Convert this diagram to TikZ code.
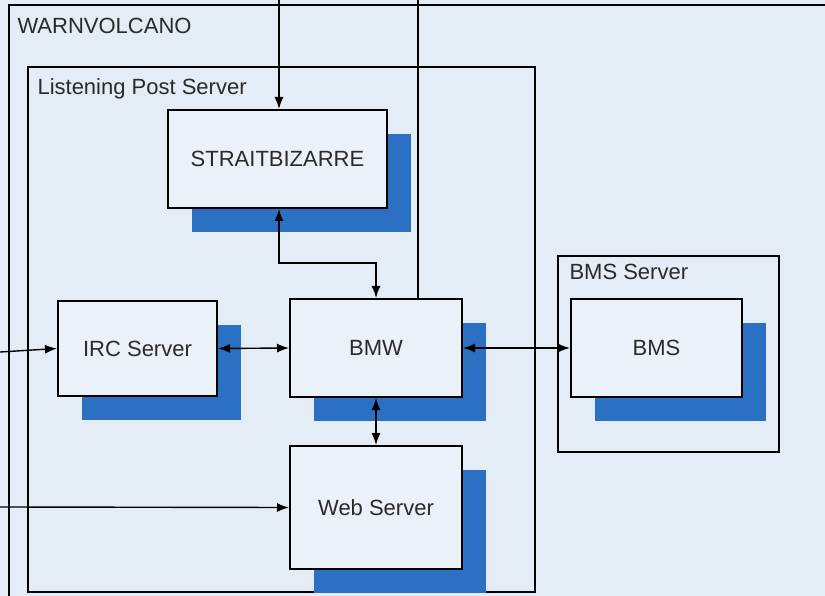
\documentclass[tikz,border=0pt]{standalone}
\usepackage{fontspec}
\setmainfont{Liberation Sans}
\usetikzlibrary{arrows.meta,shadows}
\definecolor{bgblue}{HTML}{E4ECF6}
\definecolor{boxblue}{HTML}{EBF1F9}
\definecolor{shadowblue}{HTML}{2B70C2}
\definecolor{textgray}{HTML}{2A2A2A}
\begin{document}
\begin{tikzpicture}[x=1pt,y=-1pt,
    every node/.style={text=textgray,font=\fontsize{22}{25}\selectfont},
    server/.style={draw=black,line width=2pt,fill=boxblue,
        general shadow={fill=shadowblue,shadow xshift=24pt,shadow yshift=-24pt}},
    link/.style={line width=1.4pt,-{Latex[length=12pt,width=9pt]}},
    dlink/.style={line width=1.4pt,{Latex[length=12pt,width=9pt]}-{Latex[length=12pt,width=9pt]}}]
    \fill[bgblue] (0,0) rectangle (825,596);
    \useasboundingbox (0,0) rectangle (825,596);
    % containers
    \draw[line width=2pt] (9,596) -- (9,5) -- (825,5);
    \node[anchor=north west] (warn) at (14,15) {WARNVOLCANO};
    \draw[line width=2pt] (28,67) rectangle (535,592);
    \node[anchor=north west] (lps) at (34,75) {Listening Post Server};
    \draw[line width=2pt] (558,256) rectangle (779,452);
    \node[anchor=north west] (bmsserver) at (566,261) {BMS Server};
    % servers
    \node[server,minimum width=219pt,minimum height=98pt] (strait) at (277.5,159) {STRAITBIZARRE};
    \node[server,minimum width=159pt,minimum height=95pt] (irc) at (137.5,348.5) {IRC Server};
    \node[server,minimum width=172pt,minimum height=98pt] (bmw) at (376,348) {BMW};
    \node[server,minimum width=172pt,minimum height=123pt] (web) at (376,507.5) {Web Server};
    \node[server,minimum width=171pt,minimum height=98pt] (bms) at (656.5,348) {BMS};
    % outside ends
    \coordinate (topA) at (279,0);
    \coordinate (topB) at (418,0);
    \coordinate (inA) at (0,352);
    \coordinate (inB) at (0,507);
    % connectors
    \draw[link] (topA) -- (topA |- strait.north);
    \draw[line width=1.4pt] (topB) -- (topB |- bmw.north);
    \draw[dlink] (topA |- strait.south) -- ++(0,54) -| (bmw.north);
    \draw[dlink] (irc.east) -- (bmw.west);
    \draw[dlink] (bmw.east) -- (bms.west);
    \draw[dlink] (bmw.south) -- (web.north);
    \draw[link] (inA) -- (irc.west);
    \draw[link] (inB) -- (web.west);
\end{tikzpicture}
\end{document}
